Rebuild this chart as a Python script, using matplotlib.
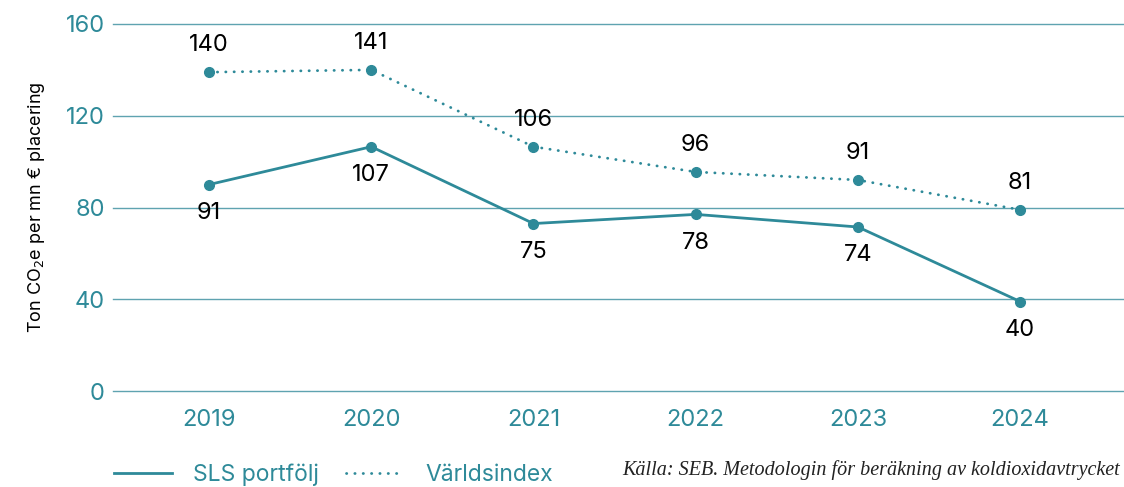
import numpy as np
import matplotlib
matplotlib.use("Agg")
import matplotlib.pyplot as plt
from matplotlib.lines import Line2D

years = ["2019", "2020", "2021", "2022", "2023", "2024"]
# positions, labels as printed
sls_values = [90, 106.5, 73, 77, 71.5, 39]
sls_labels = ["91", "107", "75", "78", "74", "40"]
world_values = [139, 140, 106.5, 95.5, 92, 79]
world_labels = ["140", "141", "106", "96", "91", "81"]
yticks = [0, 40, 80, 120, 160]

teal = "#2e8a99"
grid_col = "#5fa3b0"
dotted = (0, (0.1, 2.9))

plt.rcParams['font.family'] = ['Inter', 'DejaVu Sans']

fig = plt.figure(figsize=(11.24, 4.87), dpi=100)
ax = fig.add_axes([113/1124, 1 - 391/487, 1 - 113/1124, (391 - 24)/487])

x = np.arange(len(years))
for yv in yticks:
    ax.axhline(yv, color=grid_col, lw=1, zorder=1, clip_on=False)

ax.plot(x, sls_values, color=teal, lw=2, marker='o', ms=7, zorder=3)
ax.plot(x, world_values, color=teal, lw=2, ls=dotted, dash_capstyle='round',
        marker='o', ms=7, zorder=3)

for i in range(len(years)):
    ax.annotate(sls_labels[i], (x[i], sls_values[i]), xytext=(0, -20.5), textcoords='offset points',
                ha='center', va='center', fontsize=17, color='black')
    ax.annotate(world_labels[i], (x[i], world_values[i]), xytext=(0, 19.5), textcoords='offset points',
                ha='center', va='center', fontsize=17, color='black')

ax.set_xlim(-0.592, 5.64)
ax.set_ylim(0, 160)
ax.set_xticks(x)
ax.set_xticklabels(years)
ax.set_yticks(yticks)
ax.tick_params(length=0, labelsize=17, labelcolor=teal)
ax.tick_params(axis='x', pad=13)
ax.tick_params(axis='y', pad=6)
for s in ax.spines.values():
    s.set_visible(False)

ax.set_ylabel("Ton CO$_2$e per mn € placering", fontsize=13, color='black', labelpad=13)

handles = [Line2D([], [], color=teal, lw=2),
           Line2D([], [], color=teal, lw=2, ls=dotted, dash_capstyle='round')]
leg = fig.legend(handles, ["SLS portfölj", "Världsindex"], loc='center left',
                 bbox_to_anchor=(114/1124, 1 - 475/487), ncol=2, frameon=False,
                 borderpad=0, borderaxespad=0,
                 fontsize=16.5, handlelength=2.53, handletextpad=0.92, columnspacing=1.18)
for t in leg.get_texts():
    t.set_color(teal)

fig.text(1120/1124, 1 - 470/487, "Källa: SEB. Metodologin för beräkning av koldioxidavtrycket",
         ha='right', va='center', fontsize=14.5, style='italic', family='Liberation Serif',
         color='#222222')

fig.savefig("out.png", dpi=100)
